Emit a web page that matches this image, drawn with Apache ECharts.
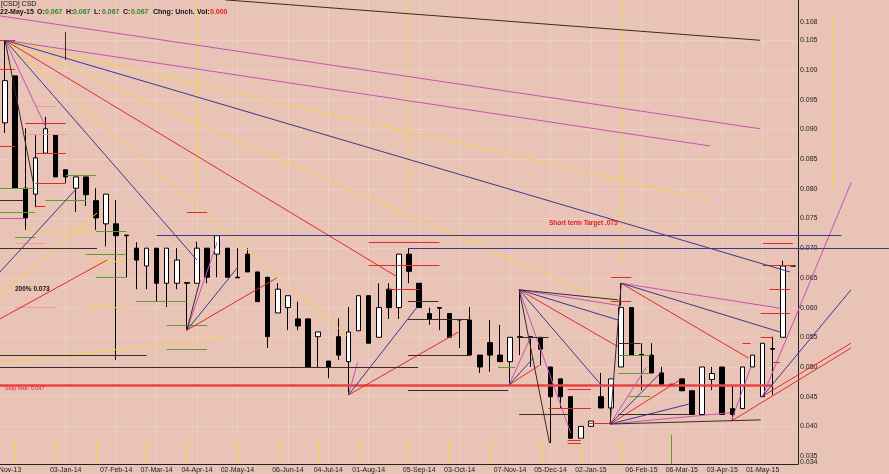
<!DOCTYPE html>
<html><head><meta charset="utf-8">
<script src="https://cdn.jsdelivr.net/npm/echarts@6/dist/echarts.min.js"></script>
<style>html,body{margin:0;padding:0;background:#E9C3B6;}#c{width:889px;height:474px;}</style>
</head><body><div id="c"></div>
<script>
const categories = [
'22-Nov-13','29-Nov-13','06-Dec-13','13-Dec-13','20-Dec-13','27-Dec-13',
'03-Jan-14','10-Jan-14','17-Jan-14','24-Jan-14','31-Jan-14',
'07-Feb-14','14-Feb-14','21-Feb-14','28-Feb-14',
'07-Mar-14','14-Mar-14','21-Mar-14','28-Mar-14',
'04-Apr-14','11-Apr-14','18-Apr-14','25-Apr-14',
'02-May-14','09-May-14','16-May-14','23-May-14','30-May-14',
'06-Jun-14','13-Jun-14','20-Jun-14','27-Jun-14',
'04-Jul-14','11-Jul-14','18-Jul-14','25-Jul-14',
'01-Aug-14','08-Aug-14','15-Aug-14','22-Aug-14','29-Aug-14',
'05-Sep-14','12-Sep-14','19-Sep-14','26-Sep-14',
'03-Oct-14','10-Oct-14','17-Oct-14','24-Oct-14','31-Oct-14',
'07-Nov-14','14-Nov-14','21-Nov-14','28-Nov-14',
'05-Dec-14','12-Dec-14','19-Dec-14','26-Dec-14',
'02-Jan-15','09-Jan-15','16-Jan-15','23-Jan-15','30-Jan-15',
'06-Feb-15','13-Feb-15','20-Feb-15','27-Feb-15',
'06-Mar-15','13-Mar-15','20-Mar-15','27-Mar-15',
'03-Apr-15','10-Apr-15','17-Apr-15','24-Apr-15',
'01-May-15','08-May-15','15-May-15','22-May-15'];

const tickLabels = ['22-Nov-13','03-Jan-14','07-Feb-14','07-Mar-14','04-Apr-14','02-May-14','06-Jun-14','04-Jul-14','01-Aug-14','05-Sep-14','03-Oct-14','07-Nov-14','05-Dec-14','02-Jan-15','06-Feb-15','06-Mar-15','03-Apr-15','01-May-15'];

const opens  = [0.0911,0.0990,0.0801,0.0791,0.0860,0.0891,0.0832,0.0801,0.0820,0.0780,0.0741,0.0741,0.0722,0.0700,0.0670,0.0700,0.0641,0.0641,0.0642,0.0641,0.0700,0.0690,0.0700,0.0651,0.0690,0.0660,0.0651,0.0591,0.0600,0.0581,0.0581,0.0551,0.0510,0.0551,0.0509,0.0561,0.0620,0.0550,0.0631,0.0600,0.0690,0.0641,0.0590,0.0600,0.0590,0.0580,0.0579,0.0520,0.0541,0.0520,0.0509,0.0551,0.0551,0.0550,0.0500,0.0480,0.0450,0.0380,0.0400,0.0450,0.0431,0.0500,0.0600,0.0521,0.0520,0.0490,0.0471,0.0480,0.0460,0.0420,0.0479,0.0500,0.0430,0.0430,0.0500,0.0450,0.0531,0.0550,0.0670];
const closes = [0.0982,0.0801,0.0751,0.0852,0.0901,0.0820,0.0820,0.0820,0.0790,0.0751,0.0791,0.0721,0.0721,0.0680,0.0700,0.0641,0.0700,0.0680,0.0641,0.0700,0.0651,0.0721,0.0651,0.0650,0.0660,0.0610,0.0551,0.0631,0.0620,0.0569,0.0500,0.0559,0.0500,0.0520,0.0559,0.0620,0.0540,0.0600,0.0600,0.0690,0.0661,0.0600,0.0580,0.0599,0.0550,0.0579,0.0520,0.0500,0.0520,0.0509,0.0550,0.0550,0.0550,0.0530,0.0450,0.0450,0.0380,0.0400,0.0409,0.0431,0.0480,0.0600,0.0520,0.0520,0.0490,0.0470,0.0470,0.0460,0.0420,0.0500,0.0489,0.0420,0.0420,0.0500,0.0520,0.0540,0.0530,0.0670,0.0670];
const lows   = [0.0894,0.0801,0.0731,0.0769,0.0860,0.0820,0.0810,0.0761,0.0771,0.0731,0.0703,0.0512,0.0651,0.0631,0.0631,0.0611,0.0601,0.0631,0.0562,0.0641,0.0641,0.0651,0.0651,0.0650,0.0660,0.0610,0.0532,0.0591,0.0562,0.0562,0.0500,0.0500,0.0481,0.0512,0.0453,0.0561,0.0540,0.0550,0.0581,0.0581,0.0641,0.0600,0.0571,0.0562,0.0550,0.0532,0.0520,0.0490,0.0492,0.0509,0.0470,0.0520,0.0500,0.0503,0.0372,0.0431,0.0380,0.0380,0.0400,0.0431,0.0404,0.0500,0.0520,0.0461,0.0490,0.0470,0.0470,0.0460,0.0420,0.0420,0.0461,0.0420,0.0411,0.0430,0.0500,0.0451,0.0453,0.0550,0.0670];
const highs  = [0.1050,0.0990,0.0902,0.0890,0.0921,0.0891,0.0832,0.0820,0.0820,0.0801,0.0791,0.0781,0.0722,0.0710,0.0700,0.0700,0.0700,0.0700,0.0642,0.0711,0.0700,0.0721,0.0700,0.0700,0.0700,0.0660,0.0651,0.0641,0.0620,0.0610,0.0581,0.0559,0.0510,0.0582,0.0601,0.0620,0.0620,0.0641,0.0641,0.0690,0.0700,0.0641,0.0600,0.0600,0.0590,0.0580,0.0601,0.0520,0.0579,0.0571,0.0550,0.0630,0.0551,0.0550,0.0500,0.0480,0.0450,0.0400,0.0409,0.0490,0.0480,0.0641,0.0600,0.0540,0.0540,0.0500,0.0471,0.0480,0.0460,0.0500,0.0500,0.0500,0.0470,0.0500,0.0520,0.0540,0.0551,0.0679,0.0670];

const yTickValues = [0.034,0.040,0.045,0.050,0.055,0.060,0.065,0.070,0.075,0.080,0.085,0.090,0.095,0.100,0.105,0.108];
const yExtraTickValues = [0.035];
const gridLevels = [0.040,0.045,0.050,0.055,0.060,0.065,0.070,0.075,0.080,0.085,0.090,0.095,0.100,0.105];
const yMin = 0.03367, yMax = 0.11178;

// segments: [barIndex1, value1, barIndex2, value2]
const redSegments = [
[0,0.1050,38.8,0.0652],[18,0.0562,26.9,0.0650],[34,0.0453,44.9,0.0559],[50.9,0.0630,60.7,0.0534],
[49.9,0.0470,52.9,0.0503],[61,0.0641,73.6,0.0515],[-0.5,0.0581,10.1,0.0680],[75,0.0451,83.75,0.0540],
[71.9,0.0409,83.75,0.0532],[59.9,0.0404,66.8,0.0478],
[-0.5,0.1050,1,0.1050],[-0.5,0.1002,1,0.1002],[-0.5,0.0872,1,0.0872],[2,0.0911,6,0.0911],
[3,0.0860,6,0.0860],[3,0.0810,6,0.0810],[3,0.0771,4,0.0771],[18,0.0761,20,0.0761],
[36,0.0710,43,0.0710],[36,0.0672,43,0.0672],[38,0.0631,41,0.0631],[60,0.0651,62,0.0651],
[60,0.0611,62,0.0611],[75,0.0709,78,0.0709],[75,0.0672,78,0.0672],[75.7,0.0631,77.7,0.0631],
[74.8,0.0591,77.7,0.0591],[74.8,0.0550,76,0.0550],[73,0.0540,73.8,0.0540],[76,0.0508,76.7,0.0508],
[55.7,0.0463,58,0.0463],[53.8,0.0431,58,0.0431],[57.7,0.0406,60,0.0406],[55.7,0.0377,57,0.0377],
[55.7,0.0372,57,0.0372]];
const stopLossSegments = [[-0.5,0.0470,76,0.0470]];
const magentaSegments = [
[0,0.1050,4,0.0905],[0,0.1050,69.8,0.0872],[-0.5,0.1091,74.75,0.0901],[18,0.0562,21,0.0710],
[34,0.0453,34.9,0.0508],[49.9,0.0470,52,0.0549],[50.9,0.0630,61,0.0603],[50.9,0.0630,56,0.0389],
[61,0.0641,76.7,0.0599],[59.9,0.0404,63.5,0.0500],[59.9,0.0404,71.8,0.0423],[75,0.0451,83.75,0.0810],
[71.9,0.0409,73.8,0.0498],[-0.5,0.0751,2,0.0751]];
const pinkSegments = [[3,0.0939,5,0.0939],[2,0.0891,6,0.0891],[1,0.0709,4,0.0709],[1,0.0601,5,0.0601]];
const navySegments = [
[0,0.1050,19,0.0680],[0,0.1050,77.7,0.0660],[-0.5,0.0660,7,0.0799],[18,0.0562,23,0.0667],
[34,0.0453,40.8,0.0601],[49.9,0.0470,52.3,0.0515],[50.9,0.0630,60.7,0.0579],[50.9,0.0630,59,0.0470],
[61,0.0641,76.7,0.0559],[59.9,0.0404,64.9,0.0490],[59.9,0.0404,67.8,0.0438],[75,0.0451,83.75,0.0630],
[15,0.0721,82.8,0.0721],[39.9,0.0700,87.5,0.0700]];
const yellowSegments = [
[0,0.1050,34,0.0551],[0,0.1050,61,0.0601],[0,0.1050,69.8,0.0781],[-0.5,0.0621,9.1,0.0759],
[-0.5,0.0508,22,0.0550],[19,0.1118,19,0.0786],[40,0.1118,40,0.0769],[61,0.1118,61,0.0677],
[82,0.1091,82,0.0801],[2,0.0729,11,0.0729],[8,0.0678,12,0.0678],[8,0.0601,12,0.0601]];
const cycleTicks = [1,5,9,14,18,23,27,31,35,40,44,48,53,57,61];
const cycleTickRange = [0.0337,0.0380];
const darkSegments = [
[21.8,0.1118,74.75,0.1050],[0,0.1050,2.8,0.0810],[18,0.0562,19.3,0.0646],[50.9,0.0630,60.7,0.0613],
[50.9,0.0630,53.9,0.0372],[59.9,0.0404,61,0.0641],[59.9,0.0404,74.8,0.0411],[6,0.1064,6,0.1017],
[-0.5,0.0780,1.8,0.0780],[-0.5,0.0700,9.1,0.0700],[-0.5,0.0520,14,0.0520],[-0.5,0.0500,40.9,0.0500],
[39.9,0.0611,42.9,0.0611],[39.9,0.0581,46,0.0581],[39.9,0.0520,46,0.0520],[39.9,0.0461,49.8,0.0461],
[50.7,0.0550,53.8,0.0550],[50.9,0.0421,55.9,0.0421],[60.7,0.0421,67.8,0.0421],[60.7,0.0540,62.9,0.0540]];
const greenSegments = [
[-0.5,0.0801,3,0.0801],[6,0.0822,9,0.0822],[4,0.0780,8,0.0780],[-0.5,0.0761,3,0.0761],
[1,0.0719,3,0.0719],[9,0.0729,12,0.0729],[8,0.0690,12,0.0690],[9,0.0651,12,0.0651],
[16,0.0571,20,0.0571],[16,0.0530,20,0.0530],[13,0.0611,18,0.0611],[48.8,0.0500,50.5,0.0500],
[60.7,0.0520,63.9,0.0520],[60.7,0.0490,63.9,0.0490],[61.7,0.0451,63.9,0.0451],[66,0.0385,66,0.0337]];

const candleData = opens.map((o, i) => [o, closes[i], lows[i], highs[i]]);
const tickIdx = tickLabels.map(t => categories.indexOf(t));

function segSeries(segs, color, width, z, type) {
  return {
    type: 'lines', coordinateSystem: 'cartesian2d', xAxisIndex: 1, yAxisIndex: 0,
    polyline: false, clip: false, silent: true, z: z || 3,
    lineStyle: { color: color, width: width || 1, opacity: 1, curveness: 0, type: type || 'solid' },
    data: segs.map(s => ({ coords: [[s[0], s[1]], [s[2], s[3]]] }))
  };
}

const gridSegs = gridLevels.map(v => [-0.5, v, 78.5, v]).concat(tickIdx.slice(1).map(i => [i, yMin, i, yMax]));
const cycleSegs = cycleTicks.map(i => [i, cycleTickRange[0], i, cycleTickRange[1]]);

const FONT = 'Liberation Sans, Arial, sans-serif';
const chart = echarts.init(document.getElementById('c'), null, { renderer: 'canvas' });
const hdr = (x, y, text, fill, bold) => ({ type: 'text', x: x, y: y, silent: true, z: 100,
  style: { text: text, fill: fill, font: (bold ? 'bold ' : '') + '7px ' + FONT, verticalAlign: 'middle' } });
const yLabelStyle = { formatter: v => v.toFixed(3), fontSize: 7, color: '#222', margin: 2, fontFamily: FONT, hideOverlap: false, showMinLabel: true, showMaxLabel: true };

chart.setOption({
  animation: false,
  backgroundColor: '#E9C3B6',
  grid: { left: 0, right: 91, top: 0, bottom: 10, containLabel: false, outerBoundsMode: 'none' },
  xAxis: [
    { type: 'category', data: categories, boundaryGap: true,
      axisLine: { show: true, lineStyle: { color: '#222', width: 1 } },
      axisTick: { show: false },
      axisLabel: { interval: (idx) => tickIdx.indexOf(idx) >= 0, fontSize: 7, color: '#222', margin: 3, fontFamily: FONT, hideOverlap: false },
      splitLine: { show: false } },
    { type: 'value', min: -0.5, max: 78.5, show: false }
  ],
  yAxis: [
    { type: 'value', position: 'right', min: yMin, max: yMax,
      axisLine: { show: true, onZero: false, lineStyle: { color: '#222', width: 1 } },
      axisTick: { show: false, customValues: yTickValues },
      axisLabel: Object.assign({ customValues: yTickValues }, yLabelStyle),
      splitLine: { show: false } },
    { type: 'value', position: 'right', min: yMin, max: yMax,
      axisLine: { show: false }, axisTick: { show: false, customValues: yExtraTickValues },
      axisLabel: Object.assign({ customValues: yExtraTickValues }, yLabelStyle, { showMinLabel: false }),
      splitLine: { show: false } }
  ],
  series: [
    segSeries(gridSegs, 'rgba(255,255,255,0.35)', 1, 1, 'dotted'),
    { type: 'candlestick', xAxisIndex: 0, yAxisIndex: 0, data: candleData, barWidth: 5, z: 2,
      itemStyle: { color: '#ffffff', color0: '#000000', borderColor: '#000000', borderColor0: '#000000', borderWidth: 1 } },
    segSeries(stopLossSegments, '#e84444', 2.5, 3),
    segSeries(yellowSegments, '#f2d24a', 1, 3),
    segSeries(cycleSegs, '#f2d24a', 1, 3),
    segSeries(pinkSegments, '#f09a9a', 1, 3),
    segSeries(greenSegments, '#5c9e2c', 1, 3),
    segSeries(redSegments, '#e02a2a', 1, 4),
    segSeries(magentaSegments, '#c850b8', 1, 4),
    segSeries(navySegments, '#3a3890', 1, 4),
    segSeries(darkSegments, '#3a2a28', 1, 4)
  ],
  graphic: [
    hdr(1, 4, '[CSD] CSD', '#111', false),
    hdr(0, 12, '22-May-15', '#111', true),
    hdr(37, 12, 'O:', '#111', true), hdr(45, 12, '0.067', '#2e8a2e', true),
    hdr(66, 12, 'H:', '#111', true), hdr(73, 12, '0.067', '#2e8a2e', true),
    hdr(94, 12, 'L:', '#111', true), hdr(102, 12, '0.067', '#2e8a2e', true),
    hdr(123, 12, 'C:', '#111', true), hdr(131, 12, '0.067', '#2e8a2e', true),
    hdr(153, 12, 'Chng: Unch.', '#111', true),
    hdr(197, 12, 'Vol:', '#111', true), hdr(210, 12, '0.000', '#e02020', true),
    { type: 'text', x: 549, y: 223, silent: true, z: 100, style: { text: 'Short term Target .075', fill: '#e02020', font: 'bold 6.5px ' + FONT, verticalAlign: 'middle' } },
    { type: 'text', x: 15, y: 289, silent: true, z: 100, style: { text: '200% 0.073', fill: '#111', font: 'bold 6.5px ' + FONT, verticalAlign: 'middle' } },
    { type: 'text', x: 5, y: 388, silent: true, z: 100, style: { text: 'Stop loss: 0.047', fill: '#e02020', font: '5.5px ' + FONT, verticalAlign: 'middle' } }
  ]
});
</script></body></html>
